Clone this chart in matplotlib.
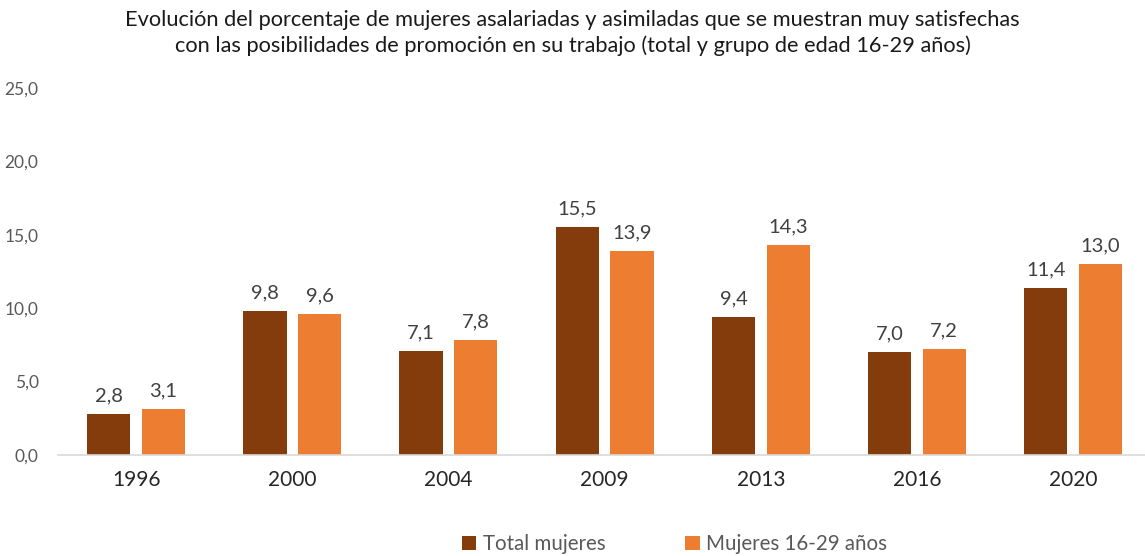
import matplotlib.pyplot as plt
import numpy as np

years = ["1996", "2000", "2004", "2009", "2013", "2016", "2020"]
total_mujeres = [2.8, 9.8, 7.1, 15.5, 9.4, 7.0, 11.4]
mujeres_16_29 = [3.1, 9.6, 7.8, 13.9, 14.3, 7.2, 13.0]

plt.rcParams['font.family'] = ['Lato', 'DejaVu Sans']

brown = '#843C0C'
orange = '#ED7D31'
grey = '#595959'

fig = plt.figure(figsize=(11.45, 5.56), dpi=100)
ax = fig.add_axes([58 / 1145, 1 - 455 / 556, 1 - 58 / 1145, (455 - 88) / 556])

x = np.arange(len(years))
w = 0.277
off = 0.175
b1 = ax.bar(x - off, total_mujeres, w, color=brown, label="Total mujeres")
b2 = ax.bar(x + off, mujeres_16_29, w, color=orange, label="Mujeres 16-29 años")

# value labels with comma decimals
for bars, vals in [(b1, total_mujeres), (b2, mujeres_16_29)]:
    for b, v in zip(bars, vals):
        ax.annotate(f"{v:.1f}".replace(".", ","), (b.get_x() + b.get_width() / 2, v),
                    xytext=(0, 7), textcoords="offset points",
                    ha="center", va="bottom", fontsize=14.5, color='#404040')

ax.set_xlim(-0.5, 6.46)
ax.set_ylim(0, 25)
ax.set_xticks(x)
ax.set_xticklabels(years, fontsize=15, color='#262626')
yt = np.arange(0, 26, 5)
ax.set_yticks(yt)
ax.set_yticklabels([f"{v:.1f}".replace(".", ",") for v in yt], fontsize=12.5, color=grey)
ax.tick_params(axis='both', length=0)
ax.tick_params(axis='x', pad=11)
ax.tick_params(axis='y', pad=14)
for s in ['top', 'right', 'left']:
    ax.spines[s].set_visible(False)
ax.spines['bottom'].set_color('#D9D9D9')
ax.spines['bottom'].set_linewidth(1.2)

fig.text(0.5, 0.982, "Evolución del porcentaje de mujeres asalariadas y asimiladas que se muestran muy satisfechas\n"
         "con las posibilidades de promoción en su trabajo (total y grupo de edad 16-29 años)",
         ha="center", va="top", fontsize=15.7, color='#1a1a1a', linespacing=1.3)

fig.legend(handles=[b1, b2], loc="lower center", bbox_to_anchor=(0.589, -0.03), ncol=2,
           frameon=False, fontsize=14.8, handlelength=0.7, handleheight=0.7,
           handletextpad=0.3, columnspacing=3.9, labelcolor=grey)

fig.savefig("out.png", dpi=100)
